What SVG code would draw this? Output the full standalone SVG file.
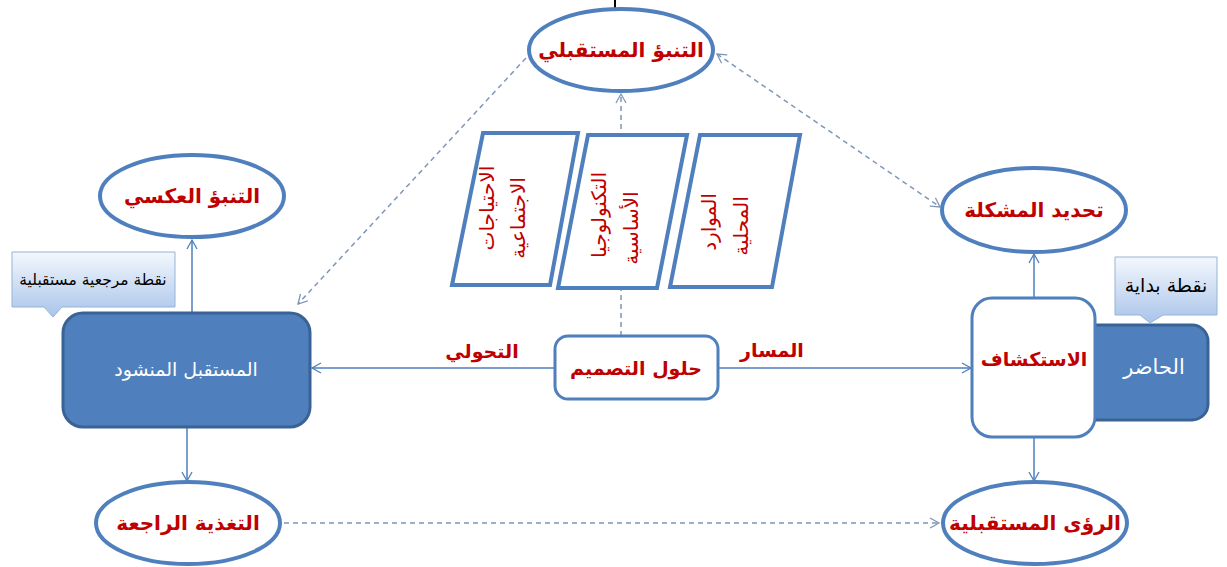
<svg xmlns="http://www.w3.org/2000/svg" width="1227" height="567" viewBox="0 0 1227 567">
<style>
.ell{fill:#fff;stroke:#4f7fbc;stroke-width:4}
.para{fill:#fff;stroke:#4f7fbc;stroke-width:4}
.wbox{fill:#fff;stroke:#4f7fbc;stroke-width:3}
.dbox{fill:#4f80bd;stroke:#3a6395;stroke-width:3}
.red{font-family:"DejaVu Sans",sans-serif;font-weight:bold;fill:#c00000;text-anchor:middle}
.vt{font-family:"DejaVu Sans",sans-serif;fill:#c00000;text-anchor:middle}
.wt{font-family:"DejaVu Sans",sans-serif;fill:#fff;text-anchor:middle}
.bk{font-family:"DejaVu Sans",sans-serif;fill:#000;text-anchor:middle}
.solid{stroke:#4f7fbc;stroke-width:1.5;fill:none}
.dash{stroke:#7f97b8;stroke-width:1.5;fill:none;stroke-dasharray:5 4}
.call{fill:url(#cg);stroke:#95b3d7;stroke-width:1}
</style>
<defs>
<marker id="ah" markerWidth="12" markerHeight="12" refX="10" refY="6" orient="auto-start-reverse" markerUnits="userSpaceOnUse">
<path d="M1,1 L10,6 L1,11" fill="none" stroke="#4f7fbc" stroke-width="1.3"/>
</marker>
<marker id="ahd" markerWidth="12" markerHeight="12" refX="10" refY="6" orient="auto-start-reverse" markerUnits="userSpaceOnUse">
<path d="M1,1 L10,6 L1,11" fill="none" stroke="#7f97b8" stroke-width="1.3"/>
</marker>
<linearGradient id="cg" x1="0" y1="0" x2="0" y2="1">
<stop offset="0" stop-color="#f4f8fd"/>
<stop offset="1" stop-color="#a9c4ea"/>
</linearGradient>
</defs>

<line x1="615" y1="0" x2="615" y2="9" stroke="#000" stroke-width="2"/>

<g id="connectors">
<line class="solid" x1="555" y1="368" x2="312" y2="368" marker-end="url(#ah)"/>
<line class="solid" x1="718" y1="368" x2="971" y2="368" marker-end="url(#ah)"/>
<line class="dash" x1="621" y1="336" x2="621" y2="94" marker-end="url(#ahd)"/>
<line class="dash" x1="526" y1="58" x2="298" y2="304" marker-end="url(#ahd)"/>
<line class="dash" x1="717" y1="54" x2="940" y2="207" marker-start="url(#ahd)" marker-end="url(#ahd)"/>
<line class="solid" x1="192" y1="313" x2="192" y2="240" marker-end="url(#ah)"/>
<line class="solid" x1="187" y1="427" x2="187" y2="481" marker-end="url(#ah)"/>
<line class="solid" x1="1034" y1="298" x2="1034" y2="254" marker-end="url(#ah)"/>
<line class="solid" x1="1034" y1="437" x2="1034" y2="481" marker-end="url(#ah)"/>
<line class="dash" x1="284" y1="523" x2="939" y2="523" marker-end="url(#ahd)"/>
<text class="red" x="482" y="358" font-size="19">التحولي</text>
<text class="red" x="772" y="357" font-size="19">المسار</text>
</g>

<g id="n-future-prediction">
<ellipse class="ell" cx="621" cy="50" rx="92" ry="41"/>
<text class="red" x="621" y="57" font-size="20">التنبؤ المستقبلي</text>
</g>

<g id="n-reverse-prediction">
<ellipse class="ell" cx="192" cy="196" rx="92" ry="41"/>
<text class="red" x="192" y="203" font-size="20">التنبؤ العكسي</text>
</g>

<g id="n-problem">
<ellipse class="ell" cx="1034" cy="210" rx="92" ry="42"/>
<text class="red" x="1034" y="217" font-size="20">تحديد المشكلة</text>
</g>

<g id="n-feedback">
<ellipse class="ell" cx="188" cy="523" rx="92" ry="41"/>
<text class="red" x="188" y="530" font-size="20">التغذية الراجعة</text>
</g>

<g id="n-visions">
<ellipse class="ell" cx="1035" cy="523" rx="92" ry="41"/>
<text class="red" x="1035" y="530" font-size="20">الرؤى المستقبلية</text>
</g>

<g id="n-social-needs">
<polygon class="para" points="483,133 578,133 550,285 452,285"/>
<text class="vt" font-size="20" transform="translate(494,208) rotate(-90)">الاحتياجات</text>
<text class="vt" font-size="20" transform="translate(525,218) rotate(-90)">الاجتماعية</text>
</g>

<g id="n-basic-tech">
<polygon class="para" points="588,135 687,135 657,288 558,288"/>
<text class="vt" font-size="20" transform="translate(606,215) rotate(-90)">التكنولوجيا</text>
<text class="vt" font-size="20" transform="translate(638,228) rotate(-90)">الأساسية</text>
</g>

<g id="n-local-resources">
<polygon class="para" points="700,135 800,135 772,287 670,287"/>
<text class="vt" font-size="20" transform="translate(716,222) rotate(-90)">الموارد</text>
<text class="vt" font-size="20" transform="translate(748,226) rotate(-90)">المحلية</text>
</g>

<g id="n-design-solutions">
<rect class="wbox" x="555" y="336" width="163" height="63" rx="13"/>
<text class="red" x="636" y="375" font-size="19" font-weight="normal">حلول التصميم</text>
</g>

<g id="n-desired-future">
<rect class="dbox" x="63" y="313" width="247" height="114" rx="20"/>
<text class="wt" x="186" y="376" font-size="19">المستقبل المنشود</text>
</g>

<g id="n-future-reference-callout">
<path class="call" d="M12,252 H175 V307 H62 L53,317 L44,307 H12 Z"/>
<text class="bk" x="93" y="285" font-size="15.5">نقطة مرجعية مستقبلية</text>
</g>

<g id="n-present">
<rect class="dbox" x="1070" y="325" width="138" height="95" rx="16"/>
<text class="wt" x="1154" y="374" font-size="21">الحاضر</text>
</g>

<g id="n-start-callout">
<path class="call" d="M1115,257 H1217 V315 H1163 L1150,323 L1140,315 H1115 Z"/>
<text class="bk" x="1166" y="292" font-size="19">نقطة بداية</text>
</g>

<g id="n-exploration">
<rect class="wbox" x="972" y="298" width="123" height="139" rx="20"/>
<text class="red" x="1034" y="366" font-size="19">الاستكشاف</text>
</g>
</svg>
